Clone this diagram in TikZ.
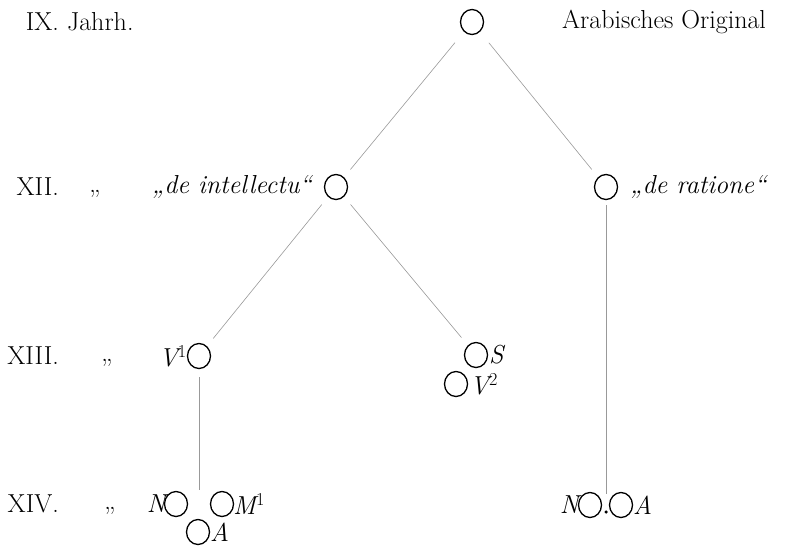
\documentclass[tikz,border=0pt]{standalone}
\usetikzlibrary{shapes.geometric}
\begin{document}
\begin{tikzpicture}[x=1pt,y=-1pt,
  ring/.style={draw,ellipse,minimum width=23pt,minimum height=25pt,inner sep=0pt,line width=1.3pt},
  lbl/.style={font=\fontsize{26}{30}\selectfont,inner sep=0pt},
  it/.style={font=\fontsize{26}{30}\selectfont\itshape,inner sep=0pt},
  dotn/.style={circle,fill,minimum size=3.5pt,inner sep=0pt},
  edge/.style={draw=black!40,line width=0.6pt,shorten <=10pt,shorten >=10pt}]
\useasboundingbox (0,0) rectangle (799,546);
% circles
\node[ring] (top) at (472,22) {};
\node[ring] (intel) at (336,187) {};
\node[ring] (rat) at (606,187) {};
\node[ring] (v1) at (199,356) {};
\node[ring] (s) at (476,355) {};
\node[ring] (v2) at (456,384) {};
\node[ring] (n1) at (176,504) {};
\node[ring] (m1) at (222,504) {};
\node[ring] (a1) at (198,532) {};
\node[ring] (n2) at (590,505) {};
\node[ring] (a2) at (621,505) {};
\node[dotn] (dot) at (606,512) {};
\coordinate (v1end) at (199,490);
\coordinate (ratend) at (606,494);
% labels
\node[lbl,anchor=east] (l9) at (59,22) {IX.};
\node[lbl,anchor=base west] (jahr) at (l9.base east) {\ Jahrh.};
\node[lbl,anchor=west] (orig) at (562,22) {Arabisches Original};
\node[lbl,anchor=east] (l12) at (59,187) {XII.};
\node[lbl] (d12) at (95,194) {„};
\node[it,anchor=east] (tintel) at (312,187) {„de intellectu“};
\node[it,anchor=west] (trat) at (630,187) {„de ratione“};
\node[lbl,anchor=east] (l13) at (59,356) {XIII.};
\node[lbl] (d13) at (107,363) {„};
\node[it,anchor=east] (tv1) at (187,356) {V\textsuperscript{\upshape 1}};
\node[it,anchor=west] (ts) at (489,355) {S};
\node[it,anchor=west] (tv2) at (470,384) {V\textsuperscript{\upshape 2}};
\node[lbl,anchor=east] (l14) at (59,504) {XIV.};
\node[lbl] (d14) at (110,511) {„};
\node[it,anchor=east] (tn1) at (166,504) {N};
\node[it,anchor=west] (tm1) at (233,504) {M\textsuperscript{\upshape 1}};
\node[it,anchor=west] (ta1) at (210,532) {A};
\node[it,anchor=east] (tn2) at (579,505) {N};
\node[it,anchor=west] (ta2) at (633,505) {A};
% connectors
\draw[edge,shorten <=14pt] (top) -- (intel);
\draw[edge,shorten <=14pt] (top) -- (rat);
\draw[edge] (intel) -- (v1);
\draw[edge] (intel) -- (s);
\draw[edge,shorten >=0pt,shorten <=8pt] (v1) -- (v1end);
\draw[edge,shorten >=0pt,shorten <=5pt] (rat) -- (ratend);
\end{tikzpicture}
\end{document}
